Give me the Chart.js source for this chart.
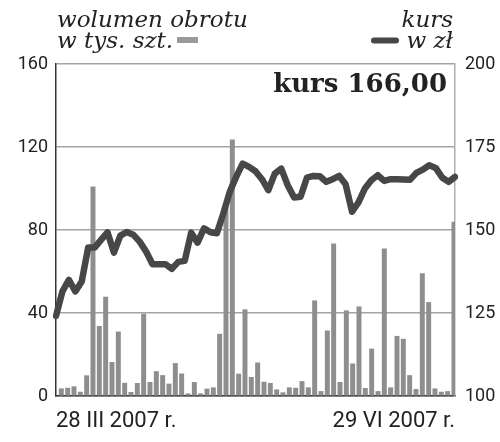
<!DOCTYPE html>
<html>
<head>
<meta charset="utf-8">
<script src="https://cdn.jsdelivr.net/npm/chart.js@4.4.1/dist/chart.umd.min.js"></script>
<style>
  body { margin: 0; background: #fff; }
  canvas { display: block; }
</style>
</head>
<body>
<canvas id="chart" width="500" height="442"></canvas>
<script>
// sessions 28 III - 29 VI 2007
const dates = [
  "28.03","29.03","30.03",
  "02.04","03.04","04.04","05.04","10.04","11.04","12.04","13.04","16.04","17.04","18.04","19.04","20.04",
  "23.04","24.04","25.04","26.04","27.04","30.04",
  "02.05","04.05","07.05","08.05","09.05","10.05","11.05","14.05","15.05","16.05","17.05","18.05",
  "21.05","22.05","23.05","24.05","25.05","28.05","29.05","30.05","31.05",
  "01.06","04.06","05.06","06.06","08.06","11.06","12.06","13.06","14.06","15.06",
  "18.06","19.06","20.06","21.06","22.06","25.06","26.06","27.06","28.06","29.06"
];

// wolumen obrotu, tys. szt.
const volume = [
  3.5, 3.8, 4.5, 1.9, 9.8, 100.8, 33.6, 47.7, 16.2, 30.9,
  6.2, 1.8, 6.1, 39.5, 6.6, 11.8, 9.9, 5.8, 15.7, 10.7,
  1.1, 6.6, 1.1, 3.4, 4.0, 29.8, 92.5, 123.4, 10.6, 41.6,
  9.0, 16.0, 6.7, 6.1, 3.0, 1.6, 4.0, 3.8, 7.0, 4.0,
  45.9, 2.2, 31.4, 73.3, 6.6, 41.1, 15.5, 43.0, 3.7, 22.7,
  2.2, 70.9, 4.0, 28.8, 27.4, 9.9, 3.2, 59.0, 45.1, 3.5,
  1.9, 2.2, 83.8
];

// kurs, zł
const price = [
  124.1, 131.5, 135.0, 131.5, 134.5, 144.7, 144.7, 147.0, 149.3, 143.2,
  148.3, 149.4, 148.6, 146.5, 143.5, 139.7, 139.7, 139.7, 138.3, 140.4,
  140.7, 149.2, 146.2, 150.5, 149.3, 149.0, 155.0, 161.5, 166.0, 170.0,
  169.0, 167.7, 165.3, 162.0, 167.0, 168.5, 163.5, 159.8, 160.0, 165.8,
  166.3, 166.2, 164.5, 165.3, 166.3, 163.8, 155.5, 158.3, 162.5, 165.0,
  166.5, 164.8, 165.3, 165.3, 165.2, 165.1, 167.2, 168.2, 169.5, 168.7,
  165.8, 164.5, 166.0
];

const xLabels = ["28 III 2007 r.", "29 VI 2007 r."];
const lastPrice = "kurs 166,00";

const textColor = "#222";
const barColor = "#8e8e8e";
const lineColor = "#474747";
const gridColor = "#a3a3a3";

const headerPlugin = {
  id: "header",
  afterDraw(chart)
  {
    const c = chart.ctx;
    const area = chart.chartArea;
    c.save();
    c.fillStyle = textColor;
    c.font = 'italic 23px "DejaVu Serif"';
    c.textBaseline = "alphabetic";
    c.textAlign = "left";
    c.fillText("wolumen obrotu", 57, 27);
    c.fillText("w tys. szt.", 57, 48);
    c.textAlign = "right";
    c.fillText("kurs", area.right - 2, 27);
    c.fillText("w zł", area.right - 2, 48);

    // legend marks
    c.fillStyle = "#9a9a9a";
    c.fillRect(177, 37, 21, 6);
    c.strokeStyle = lineColor;
    c.lineWidth = 6;
    c.lineCap = "round";
    c.beginPath();
    c.moveTo(374, 40.5);
    c.lineTo(396, 40.5);
    c.stroke();

    c.fillStyle = textColor;
    c.font = 'bold 26px "DejaVu Serif"';
    c.textAlign = "right";
    c.fillText(lastPrice, area.right - 8, 92);
    c.restore();
  }
};

const ctx = document.getElementById("chart").getContext("2d");
new Chart(ctx, {
  data: {
    labels: dates,
    datasets: [
      {
        type: "line",
        label: "kurs",
        data: price,
        xAxisID: "x2",
        yAxisID: "y2",
        borderColor: lineColor,
        borderWidth: 6.5,
        borderJoinStyle: "round",
        borderCapStyle: "round",
        pointRadius: 0,
        tension: 0,
        order: 0
      },
      {
        type: "bar",
        label: "wolumen",
        data: volume,
        xAxisID: "x",
        yAxisID: "y",
        backgroundColor: barColor,
        barThickness: 4.3,
        order: 1
      }
    ]
  },
  options: {
    responsive: false,
    animation: false,
    layout: { padding: { top: 64, left: 0, right: 0, bottom: 0 } },
    plugins: { legend: { display: false }, tooltip: { enabled: false } },
    scales: {
      x: {
        type: "category",
        offset: true,
        display: false
      },
      x2: {
        type: "category",
        position: "bottom",
        offset: false,
        grid: { display: false, drawTicks: false },
        border: { display: true, color: "#333", width: 1.5 },
        ticks: {
          autoSkip: false,
          maxRotation: 0,
          align: "inner",
          padding: 12,
          color: textColor,
          font: { family: "Roboto", size: 22 },
          callback: (v, i) => i === 0 ? xLabels[0] : (i === dates.length - 1 ? xLabels[1] : "")
        },
        afterFit: s => { s.height = 46; }
      },
      y: {
        position: "left",
        min: 0,
        max: 160,
        ticks: {
          stepSize: 40,
          padding: 8,
          color: textColor,
          font: { family: "Roboto", size: 18 }
        },
        grid: { color: gridColor, lineWidth: 1.5, drawTicks: false },
        border: { display: true, color: "#333", width: 1.5 },
        afterFit: s => { s.width = 56; }
      },
      y2: {
        position: "right",
        min: 100,
        max: 200,
        ticks: {
          stepSize: 25,
          padding: 10,
          color: textColor,
          font: { family: "Roboto", size: 18 }
        },
        grid: { display: false, drawTicks: false },
        border: { display: true, color: "#b0b0b0", width: 1.5 },
        afterFit: s => { s.width = 45; }
      }
    }
  },
  plugins: [headerPlugin]
});
</script>
</body>
</html>
